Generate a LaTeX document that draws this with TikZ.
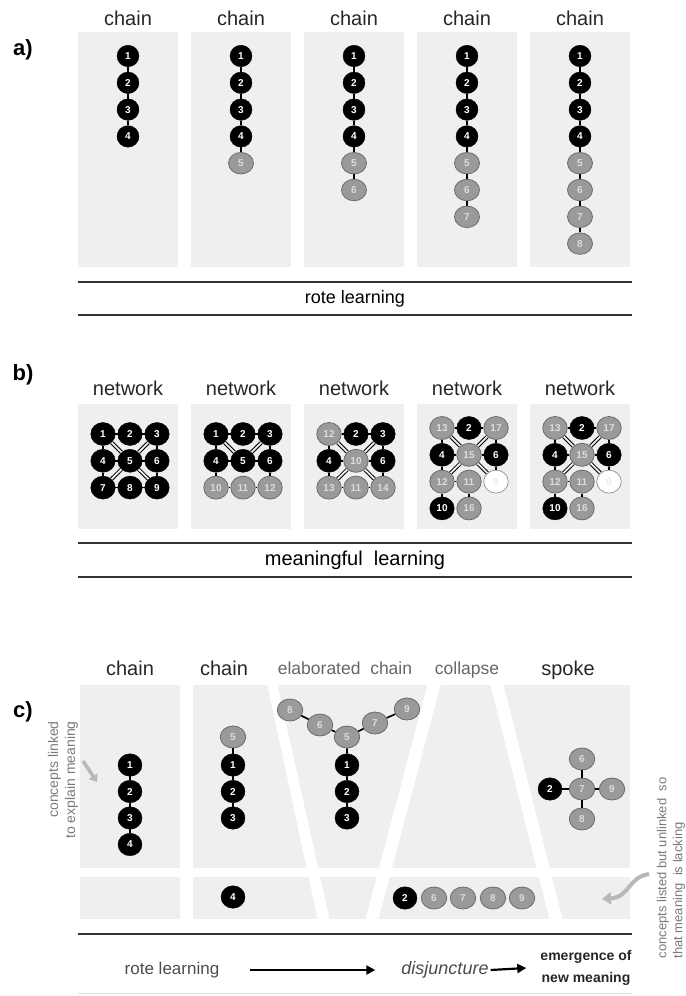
\documentclass[tikz,border=0pt]{standalone}
\usepackage{fontspec}
\setmainfont{Liberation Sans}
\usetikzlibrary{shapes.geometric,arrows.meta}

\definecolor{panelbg}{HTML}{EFEFEF}
\definecolor{ndgray}{HTML}{9A9A9A}
\definecolor{ndedge}{HTML}{6C6C6C}
\definecolor{ndtext}{HTML}{DCDCDC}
\definecolor{capgray}{HTML}{666666}
\definecolor{notegray}{HTML}{7A7A7A}
\definecolor{hintgray}{HTML}{B8B8B8}
\definecolor{rulecol}{HTML}{333333}

\tikzset{
  nd/.style={ellipse, inner sep=0pt, font=\fontsize{10bp}{11bp}\selectfont\bfseries,
             minimum width=24bp, minimum height=22.5bp},
  blk/.style={nd, fill=black, draw=black, text=white},
  gry/.style={nd, fill=ndgray, draw=ndedge, line width=0.8bp, text=ndtext,
              minimum width=25.5bp, minimum height=22bp},
  wht/.style={nd, fill=white, draw=ndgray, line width=0.8bp, text=black!8},
  ablk/.style={blk, minimum width=22bp, minimum height=21.5bp},
  agry/.style={gry, minimum width=25bp, minimum height=21.5bp},
  bsz/.style={minimum width=24.5bp, minimum height=23bp},
  lnk/.style={line width=1.6bp, black},
  dlnk/.style={line width=1bp, draw=black, double=panelbg, double distance=1.8bp},
  panel/.style={fill=panelbg},
  ttl/.style={font=\fontsize{20bp}{24bp}\selectfont, text=black!85, inner sep=0pt, anchor=base},
  subttl/.style={font=\fontsize{17.5bp}{21bp}\selectfont, text=capgray, inner sep=0pt, anchor=base},
  sec/.style={font=\fontsize{22bp}{26bp}\selectfont\bfseries, inner sep=0pt},
  rule/.style={line width=1.8bp, rulecol},
  hint/.style={hintgray, line width=3.5bp},
}

% one node of a network panel: panel, row, column, style, label
\newcommand\netnode[5]{%
  \node[#4,bsz] (b#1-#2#3) at ({130+113*(#1-1)+27*(#3-2)},{\ty+26.8*(#2-1)}) {#5};}

\begin{document}
\begin{tikzpicture}[x=1bp,y=-1bp]
\useasboundingbox (0,0) rectangle (686,996);

% ---------------- a) growing chains ----------------
\node[sec] (la) at (23,50) {a)};
\foreach \p in {1,...,5} {
  \pgfmathsetmacro\cx{128+113*(\p-1)}
  \pgfmathtruncatemacro\nn{\p+3}
  \fill[panel] (\cx-50,32) rectangle (\cx+50,267);
  \node[ttl] (at\p) at (\cx,25) {chain};
  \foreach \k in {1,...,\nn} {
    \ifnum\k>4 \def\st{agry}\else\def\st{ablk}\fi
    \node[\st] (a\p-\k) at (\cx,{56+26.8*(\k-1)}) {\k};
  }
  \foreach \k [remember=\k as \j (initially 1)] in {2,...,\nn}
    \draw[lnk] (a\p-\j) -- (a\p-\k);
}
\draw[rule] (78,282) -- (632,282);
\node[font=\fontsize{18bp}{22bp}\selectfont, inner sep=0pt] (rla) at (355,299) {rote learning};
\draw[rule] (78,315) -- (632,315);

% ---------------- b) networks ----------------
\node[sec] (lb) at (23,375) {b)};
\foreach \p in {1,...,5} {
  \pgfmathsetmacro\cx{128+113*(\p-1)}
  \fill[panel] (\cx-50,404) rectangle (\cx+50,529);
  \node[ttl] (bt\p) at (\cx,395) {network};
}

% panel 1
\def\ty{434}
\netnode{1}{1}{1}{blk}{1}\netnode{1}{1}{2}{blk}{2}\netnode{1}{1}{3}{blk}{3}
\netnode{1}{2}{1}{blk}{4}\netnode{1}{2}{2}{blk}{5}\netnode{1}{2}{3}{blk}{6}
\netnode{1}{3}{1}{blk}{7}\netnode{1}{3}{2}{blk}{8}\netnode{1}{3}{3}{blk}{9}
% panel 2
\netnode{2}{1}{1}{blk}{1}\netnode{2}{1}{2}{blk}{2}\netnode{2}{1}{3}{blk}{3}
\netnode{2}{2}{1}{blk}{4}\netnode{2}{2}{2}{blk}{5}\netnode{2}{2}{3}{blk}{6}
\netnode{2}{3}{1}{gry}{10}\netnode{2}{3}{2}{gry}{11}\netnode{2}{3}{3}{gry}{12}
% panel 3
\netnode{3}{1}{1}{gry}{12}\netnode{3}{1}{2}{blk}{2}\netnode{3}{1}{3}{blk}{3}
\netnode{3}{2}{1}{blk}{4}\netnode{3}{2}{2}{gry}{10}\netnode{3}{2}{3}{blk}{6}
\netnode{3}{3}{1}{gry}{13}\netnode{3}{3}{2}{gry}{11}\netnode{3}{3}{3}{gry}{14}
% panels 4 and 5
\def\ty{428}
\foreach \p in {4,5} {
  \netnode{\p}{1}{1}{gry}{13}\netnode{\p}{1}{2}{blk}{2}\netnode{\p}{1}{3}{gry}{17}
  \netnode{\p}{2}{1}{blk}{4}\netnode{\p}{2}{2}{gry}{15}\netnode{\p}{2}{3}{blk}{6}
  \netnode{\p}{3}{1}{gry}{12}\netnode{\p}{3}{2}{gry}{11}\netnode{\p}{3}{3}{wht}{9}
  \netnode{\p}{4}{1}{blk}{10}\netnode{\p}{4}{2}{gry}{16}
}

% links of the 3x3 grids
\foreach \p in {1,2,3}
  \foreach \u/\v in {11/12,12/13,11/21,21/31,13/23,23/33,31/32,32/33,21/22,22/23}
    \draw[lnk] (b\p-\u) -- (b\p-\v);
\foreach \p in {1,3}
  \foreach \u in {11,13,31,33}
    \draw[dlnk] (b\p-\u) -- (b\p-22);
\foreach \u in {11,13}
  \draw[dlnk] (b2-\u) -- (b2-22);
% links of the four-row networks
\foreach \p in {4,5} {
  \foreach \u/\v in {11/12,12/13,11/21,21/31,13/23,23/33,21/22,22/23,31/32,31/41,32/42}
    \draw[lnk] (b\p-\u) -- (b\p-\v);
  \foreach \u in {11,13,31,33}
    \draw[dlnk] (b\p-\u) -- (b\p-22);
}

\draw[rule] (78,543) -- (632,543);
\node[font=\fontsize{20bp}{24bp}\selectfont, inner sep=0pt] (mlb) at (355,560) {meaningful\ \ learning};
\draw[rule] (78,577) -- (632,577);

% ---------------- c) chain, elaboration, collapse, spoke ----------------
\node[sec] (lc) at (23,712) {c)};
\fill[panel] (80,685) rectangle (180,919);
\fill[panel] (193,685) rectangle (630,919);
\fill[white] (76,868) rectangle (634,877);
\fill[white] (267,683) -- (277,683) -- (330,921) -- (318,921) -- cycle;
\fill[white] (428,683) -- (441,683) -- (378,921) -- (365,921) -- cycle;
\fill[white] (490,683) -- (503,683) -- (563,921) -- (550,921) -- cycle;

\node[ttl] (ct1) at (130,675) {chain};
\node[ttl] (ct2) at (224,675) {chain};
\node[subttl] (ct3) at (345,674) {elaborated\ \ chain};
\node[subttl] (ct4) at (467,674) {collapse};
\node[ttl] (ct5) at (568,675) {spoke};

% first chain
\node[blk] (c1-1) at (130,765) {1};
\node[blk] (c1-2) at (130,791.5) {2};
\node[blk] (c1-3) at (130,818) {3};
\node[blk] (c1-4) at (130,844.5) {4};
\draw[lnk] (c1-1) -- (c1-2) (c1-2) -- (c1-3) (c1-3) -- (c1-4);

% second chain, 4 detached below
\node[gry] (c2-5) at (233,737) {5};
\node[blk] (c2-1) at (233,765) {1};
\node[blk] (c2-2) at (233,791.5) {2};
\node[blk] (c2-3) at (233,818) {3};
\node[blk] (c2-4) at (233,897) {4};
\draw[lnk] (c2-5) -- (c2-1) (c2-1) -- (c2-2) (c2-2) -- (c2-3);

% elaborated chain
\node[gry] (c3-8) at (290,710) {8};
\node[gry] (c3-6) at (320,725) {6};
\node[gry] (c3-5) at (347,737) {5};
\node[gry] (c3-7) at (375,723) {7};
\node[gry] (c3-9) at (407,709) {9};
\node[blk] (c3-1) at (347,765) {1};
\node[blk] (c3-2) at (347,791.5) {2};
\node[blk] (c3-3) at (347,818) {3};
\draw[lnk] (c3-8) -- (c3-6) (c3-6) -- (c3-5) (c3-5) -- (c3-7) (c3-7) -- (c3-9)
           (c3-5) -- (c3-1) (c3-1) -- (c3-2) (c3-2) -- (c3-3);

% collapsed concepts, unlinked
\node[blk] (c4-2) at (405,898) {2};
\node[gry] (c4-6) at (434,898) {6};
\node[gry] (c4-7) at (463,898) {7};
\node[gry] (c4-8) at (493,898) {8};
\node[gry] (c4-9) at (522,898) {9};

% spoke
\node[blk] (c5-2) at (550,789) {2};
\node[gry] (c5-7) at (582,789) {7};
\node[gry] (c5-6) at (582,759) {6};
\node[gry] (c5-8) at (582,819) {8};
\node[gry] (c5-9) at (612,789) {9};
\draw[lnk] (c5-2) -- (c5-7) (c5-7) -- (c5-6) (c5-7) -- (c5-8) (c5-7) -- (c5-9);

% side notes with their pointers
\node[rotate=90, align=right, font=\fontsize{14bp}{17bp}\selectfont, text=notegray]
  (lnote) at (63,780) {concepts linked\\to explain meaning};
\coordinate (la1) at (83,761);
\coordinate (la2) at (97,782);
\draw[hint, -{Triangle[length=7bp,width=10bp]}] (la1) -- (la2);

\node[rotate=90, align=left, font=\fontsize{13bp}{16bp}\selectfont, text=notegray]
  (rnote) at (671,868) {concepts listed but unlinked\ \ so\\that meaning\ \ is lacking};
\coordinate (ra1) at (649,874);
\coordinate (ra2) at (602,899);
\draw[hint, line width=4bp, -{Triangle[length=9bp,width=12bp]}]
  (ra1) .. controls (628,877) and (630,897) .. (ra2);

% progression along the bottom
\draw[rule] (78,934) -- (632,934);
\node[font=\fontsize{17bp}{20bp}\selectfont, text=black!70, inner sep=0pt] (rlc) at (172,970) {rote learning};
\node[font=\fontsize{18bp}{21bp}\selectfont\itshape, text=black!70, inner sep=0pt] (dj) at (445,970) {disjuncture};
\node[font=\fontsize{14bp}{22bp}\selectfont\bfseries, text=black!85, align=center, inner sep=0pt]
  (em) at (586,968) {emergence of\\new meaning};
\draw[line width=2.2bp, -{Triangle[length=9bp,width=9bp]}] ([xshift=31bp]rlc.east) -- ([xshift=-26bp]dj.west);
\draw[line width=2.2bp, -{Triangle[length=9bp,width=9bp]}] ([xshift=2bp]dj.east) -- ([xshift=-14bp]em.west);
\draw[line width=0.8bp, black!12] (78,993) -- (632,993);
\end{tikzpicture}
\end{document}
